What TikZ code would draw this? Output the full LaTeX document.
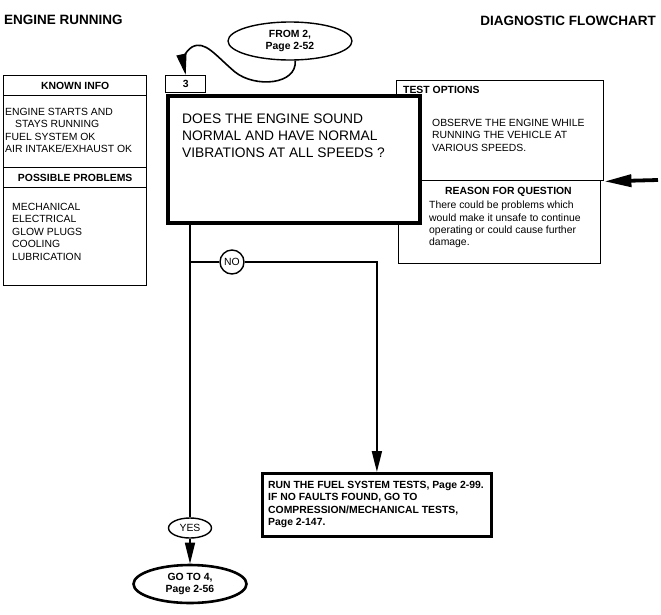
\documentclass[tikz,border=0pt]{standalone}
\usepackage{fontspec}
\setmainfont{Liberation Sans}
\usetikzlibrary{positioning,arrows.meta,shapes.geometric}
\newcommand{\infofont}{\fontsize{10.4}{12.4}\selectfont}
\newcommand{\headfont}{\fontsize{13.5}{16}\selectfont\bfseries}
\newcommand{\askfont}{\fontsize{13.8}{17}\selectfont}

\begin{document}
\begin{tikzpicture}[x=1pt,y=-1pt,inner sep=0pt,
    infobox/.style={draw,line width=1.4pt,fill=white,rectangle,anchor=north west},
    txt/.style={font=\infofont,align=left,anchor=north west},
    btxt/.style={font=\infofont\bfseries,align=left,anchor=north west},
    oval/.style={ellipse,draw,line width=1.4pt,fill=white,align=center,font=\infofont\bfseries},
    flow/.style={line width=1.6pt},
    tip/.style={-{Triangle[length=21pt,width=10pt]}}]
\useasboundingbox (0,0) rectangle (661,614);

% titles
\node[font=\headfont,anchor=base west] (engrun) at (4,24) {ENGINE RUNNING};
\node[font=\headfont,anchor=base east] (diagflow) at (656,25) {DIAGNOSTIC FLOWCHART};

% known info / possible problems
\node[infobox,minimum width=143pt,minimum height=20pt,font=\infofont\bfseries] (knownhead) at (3,75) {KNOWN INFO};
\node[infobox,minimum width=143pt,minimum height=72pt] (knownbody) at (3,95) {};
\node[txt] (knowntxt) at (5,108) {ENGINE STARTS AND\\\hspace{10pt}STAYS RUNNING\\FUEL SYSTEM OK\\AIR INTAKE/EXHAUST OK};
\node[infobox,minimum width=143pt,minimum height=20pt,font=\infofont\bfseries] (probhead) at (3,167) {POSSIBLE PROBLEMS};
\node[infobox,minimum width=143pt,minimum height=98pt] (probbody) at (3,187) {};
\node[txt] (probtxt) at (12,203) {MECHANICAL\\ELECTRICAL\\GLOW PLUGS\\COOLING\\LUBRICATION};

% test options and reason
\node[infobox,minimum width=207pt,minimum height=100pt] (testopt) at (396,80) {};
\node[btxt] (testhead) at (403,86) {TEST OPTIONS};
\node[txt] (testtxt) at (432,119) {OBSERVE THE ENGINE WHILE\\RUNNING THE VEHICLE AT\\VARIOUS SPEEDS.};
\node[infobox,minimum width=202pt,minimum height=83pt] (reason) at (398,180) {};
\node[btxt] (reasonhead) at (445,187) {REASON FOR QUESTION};
\node[txt] (reasontxt) at (429,201) {There could be problems which\\would make it unsafe to continue\\operating or could cause further\\damage.};
\coordinate (rarrow) at (658,180);
\draw[line width=3.8pt,-{Triangle[length=27pt,width=12pt]}] (rarrow) -- (testopt.south east);

% question
\node[infobox,minimum width=40pt,minimum height=17pt,font=\infofont\bfseries] (num3) at (165,75) {3};
\node[infobox,line width=4.2pt,minimum width=252pt,minimum height=127pt] (ask3) at (166,94) {};
\node[txt,font=\askfont] (asktxt) at (182,114) {DOES THE ENGINE SOUND\\NORMAL AND HAVE NORMAL\\VIBRATIONS AT ALL SPEEDS ?};

\node[oval,minimum width=124pt,minimum height=38pt] (from2) at (290,41) {FROM 2,\\Page 2-52};
\draw[flow,tip] (from2.-75) .. controls (297,85) and (255,88) .. (235,72)
    .. controls (215,55) and (205,40) .. (192,47)
    .. controls (184,52) and (183,62) .. (num3.north);

% answers
\node[oval,font=\infofont,minimum width=43pt,minimum height=20pt] (yes) at (190,528) {YES};
\node[oval,line width=2.6pt,minimum width=113pt,minimum height=38pt] (goto4) at (190,584) {GO TO 4,\\Page 2-56};
\node[circle,draw,line width=1.4pt,fill=white,minimum size=24pt,font=\infofont] (no) at (232,262) {NO};
\node[infobox,line width=2.8pt,minimum width=229pt,minimum height=63pt] (fuel) at (261,472) {};
\node[btxt] (fueltxt) at (268,481) {RUN THE FUEL SYSTEM TESTS, Page 2-99.\\IF NO FAULTS FOUND, GO TO\\COMPRESSION/MECHANICAL TESTS,\\Page 2-147.};

\coordinate (branch) at (190,262);
\draw[flow] (ask3.south -| yes.north) -- (yes.north);
\draw[flow] (branch) -- (no.west);
\draw[flow,tip] (no.east) -| (fuel.north);
\draw[flow,tip] (yes.south) -- (goto4.north);
\end{tikzpicture}
\end{document}
